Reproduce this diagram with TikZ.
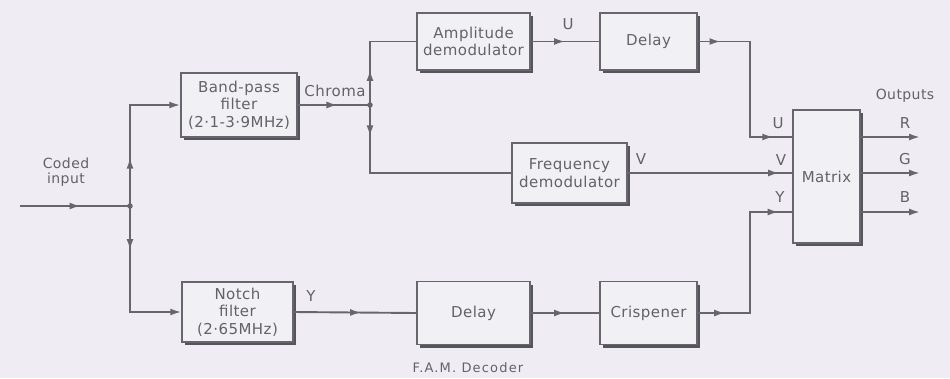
\documentclass[tikz,border=0pt]{standalone}
\usepackage{fontspec}
\setmainfont{DejaVu Sans}[LetterSpace=3]
\usetikzlibrary{arrows.meta,decorations.markings,shadows}
\definecolor{bg}{HTML}{EFEDF3}
\definecolor{ln}{HTML}{66666C}
\definecolor{tx}{HTML}{626268}
\definecolor{bx}{HTML}{F1F0F4}
\definecolor{sh}{HTML}{55555B}
\tikzset{
  blk/.style={draw=ln, line width=1.4pt, fill=bx, text=tx, align=center, inner sep=1pt,
    font=\fontsize{15}{17.5}\selectfont,
    drop shadow={shadow xshift=3pt, shadow yshift=-3pt, fill=sh, opacity=1}},
  wire/.style={draw=ln, line width=1.9pt},
  tip/.style={-{Latex[length=11pt,width=7pt]}},
  marr/.style={postaction={decorate,decoration={markings,
    mark=at position #1 with {\arrow{Latex[length=11pt,width=7pt]}}}}},
  lbl/.style={text=tx, font=\fontsize{15}{17}\selectfont, inner sep=0pt},
  dot/.style={circle, fill=ln, inner sep=0pt, minimum size=5.5pt}
}
\begin{document}
\begin{tikzpicture}[x=1pt,y=-1pt]
\fill[bg] (0,0) rectangle (950,378);
\useasboundingbox (0,0) rectangle (950,378);

% blocks
\node[blk, minimum width=116, minimum height=64] (BP) at (239,105) {Band-pass\\filter\\(2·1-3·9MHz)};
\node[blk, minimum width=113, minimum height=57] (AD) at (473.5,41.5) {Amplitude\\demodulator};
\node[blk, minimum width=97, minimum height=57] (D1) at (648.5,41.5) {Delay};
\node[blk, minimum width=115, minimum height=60] (FD) at (569.5,173) {Frequency\\demodulator};
\node[blk, minimum width=111, minimum height=60] (NF) at (237.5,312) {Notch\\filter\\(2·65MHz)};
\node[blk, minimum width=113, minimum height=63] (D2) at (473.5,313) {Delay};
\node[blk, minimum width=97, minimum height=63] (CR) at (648.5,313) {Crispener};
\node[blk, minimum width=67, minimum height=133] (MX) at (826.5,176.5) {Matrix};

% coordinates
\coordinate (in) at (20,206);
\node[dot] (J1) at (130,206) {};
\node[dot] (J2) at (370,105) {};
\coordinate (kU) at (750,137);
\coordinate (kY) at (750,212);
\coordinate (oR) at (920,137);
\coordinate (oG) at (920,173);
\coordinate (oB) at (920,212);

% wires
\draw[wire, marr=0.55] (in) -- (J1.center);
\draw[wire, tip, marr=0.32] (J1.center) |- (BP.west);
\draw[wire, tip, marr=0.28] (J1.center) |- (NF.west);
\draw[wire, marr=0.55] (BP.east) -- (J2.center);
\draw[wire, marr=0.32] (J2.center) |- (AD.west);
\draw[wire, marr=0.15] (J2.center) |- (FD.west);
\draw[wire, marr=0.5] (AD.east) -- (D1.west);
\draw[wire, marr=0.12, marr=0.9] (D1.east) -| (kU) -- (kU -| MX.west);
\draw[wire, marr=0.92] (FD.east) -- (FD.east -| MX.west);
\draw[wire, marr=0.55] (NF.east) -- (D2.west);
\draw[wire, marr=0.5] (D2.east) -- (CR.west);
\draw[wire, marr=0.14, marr=0.93] (CR.east) -| (kY) -- (kY -| MX.west);
\draw[wire, tip] (oR -| MX.east) -- (oR);
\draw[wire, tip] (oG -| MX.east) -- (oG);
\draw[wire, tip] (oB -| MX.east) -- (oB);

% labels
\node[lbl, align=center, font=\fontsize{14}{15}\selectfont] (ci) at (66,172) {Coded\\input};
\node[lbl] (lc) at (335,91) {Chroma};
\node[lbl] (lu1) at (568,24) {U};
\node[lbl] (lv1) at (641,159) {V};
\node[lbl] (ly1) at (311,296) {Y};
\node[lbl] (lu2) at (778,123) {U};
\node[lbl] (lv2) at (781,160) {V};
\node[lbl] (ly2) at (780,197) {Y};
\node[lbl, font=\fontsize{14}{15}\selectfont] (lo) at (905,96) {Outputs};
\node[lbl] (lr) at (905,123) {R};
\node[lbl] (lg) at (905,159) {G};
\node[lbl] (lb) at (905,197) {B};
\node[lbl, font=\addfontfeature{LetterSpace=9}\fontsize{13}{14}\selectfont] (cap) at (468,368) {F.A.M.\ Decoder};
\end{tikzpicture}
\end{document}
